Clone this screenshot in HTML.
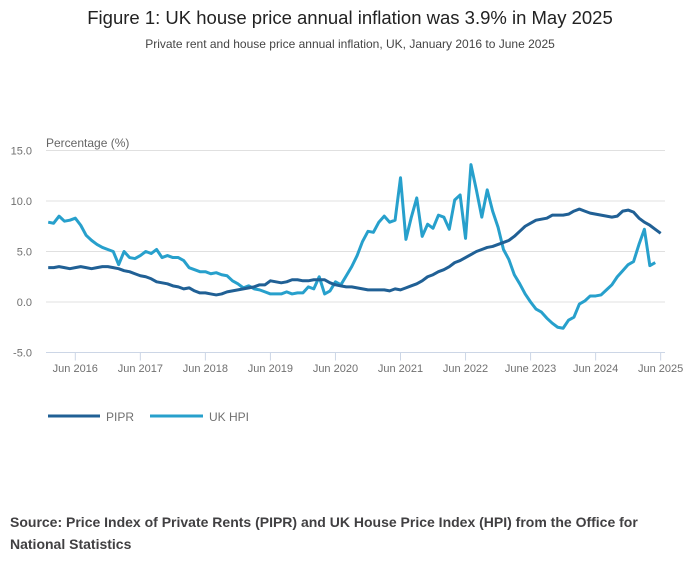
<!DOCTYPE html>
<html><head><meta charset="utf-8"><style>
body{margin:0;background:#fff;width:700px;height:574px;overflow:hidden;font-family:"Liberation Sans",sans-serif}
svg text{font-family:"Liberation Sans",sans-serif}
</style></head><body>
<svg width="700" height="574">
<text x="350" y="24" text-anchor="middle" font-size="18.5" fill="#222">Figure 1: UK house price annual inflation was 3.9% in May 2025</text>
<text x="350" y="48" text-anchor="middle" font-size="12" fill="#444">Private rent and house price annual inflation, UK, January 2016 to June 2025</text>
<text x="46" y="147" font-size="12" fill="#666">Percentage (%)</text>
<g id="grid"></g><g id="xaxis"></g><g id="series"></g>
<g>
<line x1="48" y1="416" x2="100" y2="416" stroke="#206095" stroke-width="3"/>
<text x="106" y="421" font-size="12" fill="#707070">PIPR</text>
<line x1="150" y1="416" x2="203" y2="416" stroke="#27a0cc" stroke-width="3"/>
<text x="209" y="421" font-size="12" fill="#707070">UK HPI</text>
</g>
<text x="10" y="527" font-size="14" font-weight="bold" fill="#414042">Source: Price Index of Private Rents (PIPR) and UK House Price Index (HPI) from the Office for</text>
<text x="10" y="549" font-size="14" font-weight="bold" fill="#414042">National Statistics</text>
</svg>
<script>
const yTicks=[15,10,5,0,-5];
const yTickLabels=["15.0","10.0","5.0","0.0","-5.0"];
const xTickMonths=[5,17,29,41,53,65,77,89,101,113];
const xTickLabels=["Jun 2016","Jun 2017","Jun 2018","Jun 2019","Jun 2020","Jun 2021","Jun 2022","June 2023","Jun 2024","Jun 2025"];
const pipr=[3.4,3.4,3.5,3.4,3.3,3.4,3.5,3.4,3.3,3.4,3.5,3.5,
3.4,3.3,3.1,3.0,2.8,2.6,2.5,2.3,2.0,1.9,1.8,1.6,
1.5,1.3,1.4,1.1,0.9,0.9,0.8,0.7,0.8,1.0,1.1,1.2,
1.3,1.4,1.5,1.7,1.7,2.1,2.0,1.9,2.0,2.2,2.2,2.1,
2.1,2.2,2.2,2.2,1.9,1.7,1.6,1.5,1.5,1.4,1.3,1.2,
1.2,1.2,1.2,1.1,1.3,1.2,1.4,1.6,1.8,2.1,2.5,2.7,
3.0,3.2,3.5,3.9,4.1,4.4,4.7,5.0,5.2,5.4,5.5,5.7,
5.9,6.1,6.5,7.0,7.5,7.8,8.1,8.2,8.3,8.6,8.6,8.6,
8.7,9.0,9.2,9.0,8.8,8.7,8.6,8.5,8.4,8.5,9.0,9.1,
8.9,8.3,7.9,7.6,7.2,6.8];
const hpi=[7.9,7.8,8.5,8.0,8.1,8.3,7.6,6.6,6.1,5.7,5.4,5.2,
5.0,3.7,5.0,4.4,4.3,4.6,5.0,4.8,5.2,4.4,4.6,4.4,
4.4,4.1,3.4,3.2,3.0,3.0,2.8,2.9,2.7,2.6,2.1,1.8,
1.4,1.6,1.3,1.2,1.0,0.8,0.8,0.8,1.0,0.8,0.9,0.9,
1.5,1.3,2.5,0.8,1.1,2.0,1.7,2.6,3.5,4.6,6.0,7.0,
6.9,7.9,8.5,7.9,8.1,12.3,6.2,8.4,10.3,6.5,7.7,7.3,
8.6,8.4,7.2,10.1,10.6,6.3,13.6,11.1,8.4,11.1,9.0,7.4,
5.2,4.2,2.7,1.8,0.8,0.0,-0.7,-1.0,-1.6,-2.1,-2.5,-2.6,
-1.8,-1.5,-0.2,0.1,0.6,0.6,0.7,1.2,1.7,2.5,3.1,3.7,
4.0,5.7,7.2,3.6,3.9];
const NS="http://www.w3.org/2000/svg";
const X0=48.2,DX=5.42,Y0=302,DY=10.1,XL=46,XR=665;
function sx(m){return X0+m*DX;}
function sy(v){return Y0-v*DY;}
function mk(t,a,p){const e=document.createElementNS(NS,t);for(const k in a)e.setAttribute(k,a[k]);p.appendChild(e);return e;}
const grid=document.getElementById('grid');
yTicks.forEach((v,i)=>{
 const l=mk('line',{x1:XL,x2:XR,y1:sy(v),y2:sy(v),stroke:v===-5?'#ccd6e6':'#e0e0e0','stroke-width':1},grid);
 
 
 const t=mk('text',{x:32,y:sy(v)+4,'text-anchor':'end','font-size':11,fill:'#707070'},grid);
 t.textContent=yTickLabels[i];
 
 
});
const xa=document.getElementById('xaxis');
xTickMonths.forEach((m,i)=>{
 const l=mk('line',{x1:sx(m),x2:sx(m),y1:sy(-5),y2:sy(-5)+8,stroke:'#ccd6e6'},xa);
 
 
 const t=mk('text',{x:sx(m),y:372,'text-anchor':'middle','font-size':11,fill:'#707070'},xa);
 t.textContent=xTickLabels[i];
 
 
});
const sg=document.getElementById('series');
function line(d,c,name){
 const p=mk('polyline',{points:d.map((v,i)=>sx(i)+','+sy(v)).join(' '),fill:'none',stroke:c,'stroke-width':3,'stroke-linejoin':'round'},sg);
 
 
}
line(hpi,'#27a0cc','uk-hpi-line');
line(pipr,'#206095','pipr-line');
</script>
</body></html>
